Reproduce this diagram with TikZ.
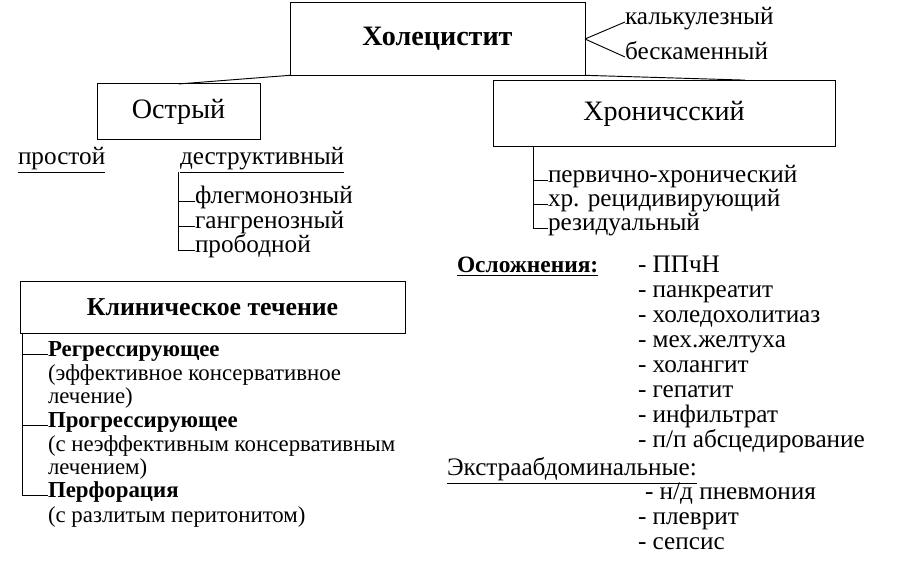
\documentclass[tikz,border=0pt]{standalone}
\usepackage{fontspec}
\setmainfont{Liberation Serif}
\usetikzlibrary{positioning}

\begin{document}
\begin{tikzpicture}[x=0.03cm, y=-0.03cm,
    inner sep=0pt, outer sep=0pt,
    box/.style={draw, thick, minimum height=#1},
    txt/.style={anchor=west, text height=0.68em, text depth=0.2em, font=\fontsize{21.5}{24}\selectfont},
    small/.style={anchor=west, text height=0.68em, text depth=0.2em, font=\fontsize{19.5}{22}\selectfont},
    smallb/.style={small, font=\bfseries\fontsize{19.5}{22}\selectfont},
    line/.style={thick},
]
    \useasboundingbox (0,0) rectangle (898,562);

    % Main boxes
    \node[box=62, minimum width=295*0.03cm, font=\bfseries\fontsize{24}{28}\selectfont] (chol) at (437.5,39) {Холецистит};
    \node[box=47, minimum width=163*0.03cm, font=\fontsize{24}{28}\selectfont] (acute) at (178.5,111.5) {Острый};
    \node[box=57, minimum width=342*0.03cm, font=\fontsize{24}{28}\selectfont] (chron) at (664,113.5) {Хроничсский};
    \node[box=45, minimum width=385*0.03cm, font=\bfseries\fontsize{22}{26}\selectfont] (clin) at (212.5,307.5) {Клиническое течение};

    % Kinds
    \node[txt] (calc) at (625,22) {калькулезный};
    \node[txt] (stone) at (625,57) {бескаменный};
    \draw[line] (chol.east) -- (calc.west);
    \draw[line] (chol.east) -- (stone.west);
    \draw[line] (chol.south west) -- (acute.north);
    \draw[line] (chol.south east) -- ([xshift=-90*0.03cm]chron.north east);

    % Acute forms
    \node[txt] (simple) at (18,162) {\underline{простой}};
    \node[txt] (destr) at (180,162) {\underline{деструктивный}};
    \node[txt] (phleg) at (195,201) {флегмонозный};
    \node[txt] (gang) at (195,226) {гангренозный};
    \node[txt] (perf) at (195,250) {прободной};
    \draw[line] (178,172) -- (178,250) -- (perf.west);
    \foreach \n in {phleg,gang}
        \draw[line] (178,0 |- \n.west) -- (\n.west);

    % Chronic forms
    \node[txt] (prim) at (548,180) {первично-хронический};
    \node[txt] (recid) at (548,204) {хр. рецидивирующий};
    \node[txt] (resid) at (548,228) {резидуальный};
    \draw[line] (chron.south west) ++(40,0) coordinate (cr);
    \draw[line] (cr) -- (cr |- resid.west) -- (resid.west);
    \foreach \n in {prim,recid}
        \draw[line] (cr |- \n.west) -- (\n.west);

    % Clinical course
    \node[smallb] (regr) at (48,354) {Регрессирующее};
    \node[small] (regr1) at (48,378) {(эффективное консервативное};
    \node[small] (regr2) at (48,401) {лечение)};
    \node[smallb] (progr) at (48,425) {Прогрессирующее};
    \node[small] (progr1) at (48,449) {(с неэффективным консервативным};
    \node[small] (progr2) at (48,472) {лечением)};
    \node[smallb] (perfo) at (48,495) {Перфорация};
    \node[small] (perfo1) at (48,520) {(с разлитым перитонитом)};
    \coordinate (cl) at ([xshift=2*0.03cm]clin.south west);
    \draw[line] (cl) -- (cl |- perfo.west) -- (perfo.west);
    \foreach \n in {regr,progr}
        \draw[line] (cl |- \n.west) -- (\n.west);

    % Complications
    \node[txt, font=\bfseries\fontsize{20}{24}\selectfont] (compl) at (457,270) {\underline{Осложнения:}};
    \foreach \t [count=\i from 0] in {ППчН, панкреатит, холедохолитиаз, мех.желтуха, холангит, гепатит, инфильтрат, п/п абсцедирование}
        \node[txt] (c\i) at (638,{270+25*\i}) {- \t};
    \node[txt] (extra) at (447,473) {\underline{Экстраабдоминальные:}};
    \node[txt] (e0) at (645,497) {- н/д пневмония};
    \node[txt] (e1) at (638,522) {- плеврит};
    \node[txt] (e2) at (638,547) {- сепсис};
\end{tikzpicture}
\end{document}
